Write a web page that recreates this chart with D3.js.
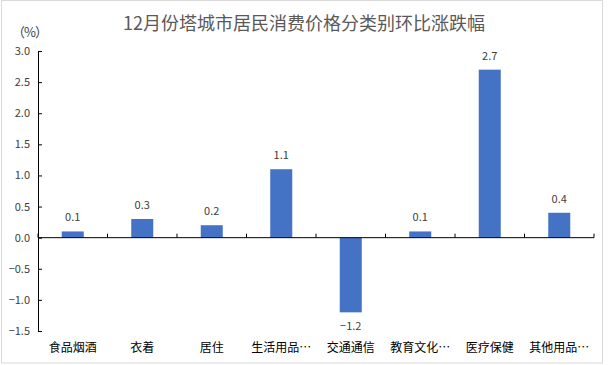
<!DOCTYPE html>
<html><head><meta charset="utf-8">
<script src="https://cdn.jsdelivr.net/npm/d3@7"></script>
<style>body{margin:0;background:#fff;}svg{display:block;}text{font-family:"Noto Sans CJK SC","Microsoft YaHei",sans-serif;}</style>
</head><body>
<script>
const categories = ["食品烟酒","衣着","居住","生活用品…","交通通信","教育文化…","医疗保健","其他用品…"];
const values = [0.1, 0.3, 0.2, 1.1, -1.2, 0.1, 2.7, 0.4];
const yTicks = [3.0, 2.5, 2.0, 1.5, 1.0, 0.5, 0.0, -0.5, -1.0, -1.5];
const title = "12月份塔城市居民消费价格分类别环比涨跌幅";
const unit = "（%）";

(function(){
const W = 608, H = 365;
const svg = d3.select("body").append("svg").attr("width", W).attr("height", H);
svg.append("rect").attr("x",1.5).attr("y",0.5).attr("width",601).attr("height",362.5)
  .attr("fill","#fff").attr("stroke","#d9d9d9");

const pl = 38, pr = 594, pt = 51, pb = 331;
const x = d3.scaleBand().domain(categories).range([pl, pr]);
const y = d3.scaleLinear().domain([-1.5, 3.0]).range([pb, pt]);

svg.append("text").attr("x", 304).attr("y", 30).attr("text-anchor","middle")
  .attr("font-size", 18).attr("fill","#595959").text(title);
svg.append("text").attr("x", 12).attr("y", 37).attr("font-size", 13).attr("fill","#404040")
  .attr("textLength", 36).text(unit);

const ya = svg.append("g").attr("transform",`translate(${pl},0)`)
  .call(d3.axisLeft(y).tickValues(yTicks).tickFormat(d3.format(".1f")).tickSizeInner(-4).tickSizeOuter(0).tickPadding(8));
ya.select(".domain").attr("stroke","#000");
ya.selectAll(".tick line").attr("stroke","#000");
ya.selectAll(".tick text").attr("font-size",11).attr("fill","#404040").attr("font-family","Liberation Sans, Arial, sans-serif");

svg.selectAll("rect.bar").data(values).join("rect").attr("class","bar")
  .attr("x",(d,i)=>x(categories[i]) + x.bandwidth()/2 - 11)
  .attr("width",22)
  .attr("y",d=>y(Math.max(0,d)))
  .attr("height",d=>Math.abs(y(d)-y(0)))
  .attr("fill","#4472C4");

svg.append("line").attr("x1",pl).attr("x2",pr).attr("y1",y(0)).attr("y2",y(0)).attr("stroke","#000");
const bounds = d3.range(categories.length+1).map(i=>pl + i*x.step());
svg.selectAll("line.xt").data(bounds).join("line").attr("class","xt")
  .attr("x1",d=>d).attr("x2",d=>d).attr("y1",y(0)-4).attr("y2",y(0)).attr("stroke","#000");

svg.selectAll("text.cat").data(categories).join("text").attr("class","cat")
  .attr("x",d=>x(d)+x.bandwidth()/2).attr("y",352).attr("text-anchor","middle")
  .attr("font-size",12).attr("fill","#000").text(d=>d);

svg.selectAll("text.val").data(values).join("text").attr("class","val")
  .attr("x",(d,i)=>x(categories[i])+x.bandwidth()/2)
  .attr("y",d=> d>=0 ? y(d)-10 : y(d)+18)
  .attr("text-anchor","middle").attr("font-size",11).attr("fill","#404040")
  .attr("font-family","Liberation Sans, Arial, sans-serif")
  .text(d=>d3.format(".1f")(d));
})();
</script>
</body></html>
